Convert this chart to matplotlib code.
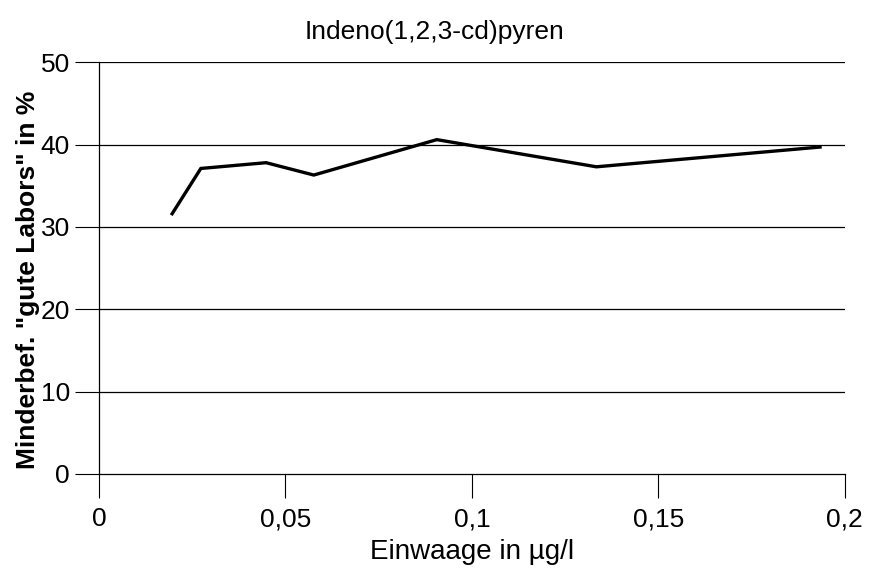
import matplotlib
matplotlib.use("Agg")
import matplotlib.pyplot as plt
from matplotlib.ticker import FuncFormatter

# data
einwaage = [0.0196, 0.0273, 0.0448, 0.0576, 0.0906, 0.1334, 0.1934]
minderbef = [31.6, 37.1, 37.8, 36.3, 40.6, 37.3, 39.7]
x_ticks = [0, 0.05, 0.1, 0.15, 0.2]
y_ticks = [0, 10, 20, 30, 40, 50]

plt.rcParams['font.family'] = ['Liberation Sans', 'DejaVu Sans']

fig = plt.figure(figsize=(8.69, 5.71), dpi=100)
ax = fig.add_axes([0.114, 0.170, 0.858, 0.721])

ax.plot(einwaage, minderbef, color="black", lw=2.4, solid_joinstyle="miter")

ax.set_xlim(0, 0.2)
ax.set_ylim(0, 50)
ax.set_xticks(x_ticks)
ax.set_yticks(y_ticks)
ax.xaxis.set_major_formatter(FuncFormatter(lambda v, p: ("%g" % v).replace(".", ",")))

for y in y_ticks[1:]:
    ax.axhline(y, color="black", lw=0.9, zorder=0)

for s in ["top", "right"]:
    ax.spines[s].set_visible(False)
for s in ["left", "bottom"]:
    ax.spines[s].set_linewidth(0.9)

ax.tick_params(axis="both", direction="out", length=17, width=0.8, labelsize=19, pad=4)
ax.tick_params(axis="x", pad=7)

fig.text(0.5, 1 - 32 / 571, "Indeno(1,2,3-cd)pyren", fontsize=19, ha="center", va="center")
ax.set_xlabel("Einwaage in µg/l", fontsize=20)
ax.xaxis.set_label_coords(0.5, -0.158)
ax.set_ylabel('Minderbef. "gute Labors" in %', fontsize=19, fontweight="bold")
ax.yaxis.set_label_coords(-0.079, 0.471)

fig.savefig("out.png", dpi=100)
